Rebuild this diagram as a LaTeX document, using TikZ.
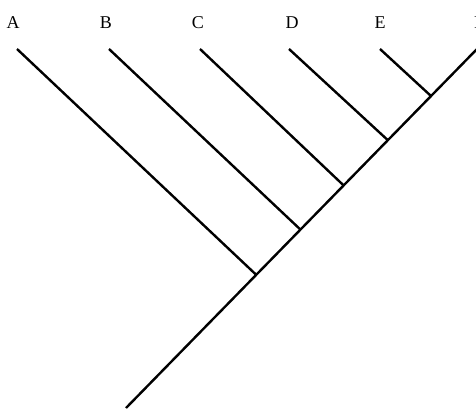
\documentclass[tikz,border=0pt]{standalone}
\usepackage{fontspec}
\setmainfont{Liberation Serif}
\usetikzlibrary{positioning,calc}

\tikzset{
  branch/.style={line width=2.4pt},
  taxon/.style={inner sep=0pt, font=\fontsize{18}{20}\selectfont}
}

\begin{document}
\begin{tikzpicture}[x=1pt, y=1pt]
  \useasboundingbox (0,0) rectangle (476,408);

  % Root and tips of the tree
  \coordinate (root) at (126,0);
  \coordinate (tA) at (17,359);
  \coordinate (tB) at (109,359);
  \coordinate (tC) at (200,359);
  \coordinate (tD) at (289,359);
  \coordinate (tE) at (380,359);
  \coordinate (tF) at (477,359);

  % Taxon labels above the tips
  \node[taxon] (A) at (13,385) {A};
  \node[taxon] (B) at (106,385) {B};
  \node[taxon] (C) at (198,385) {C};
  \node[taxon] (D) at (292,385) {D};
  \node[taxon] (E) at (380,385) {E};
  \node[taxon] (F) at (479,385) {F};

  % Branching points on the main stem
  \coordinate (jA) at ($(root)!0.371!(tF)$);
  \coordinate (jB) at ($(root)!0.497!(tF)$);
  \coordinate (jC) at ($(root)!0.620!(tF)$);
  \coordinate (jD) at ($(root)!0.746!(tF)$);
  \coordinate (jE) at ($(root)!0.869!(tF)$);

  % Main stem
  \draw[branch] (root) -- (tF);

  % Side branches
  \foreach \t in {A,B,C,D,E} {
    \draw[branch] (t\t) -- (j\t);
  }
\end{tikzpicture}
\end{document}
